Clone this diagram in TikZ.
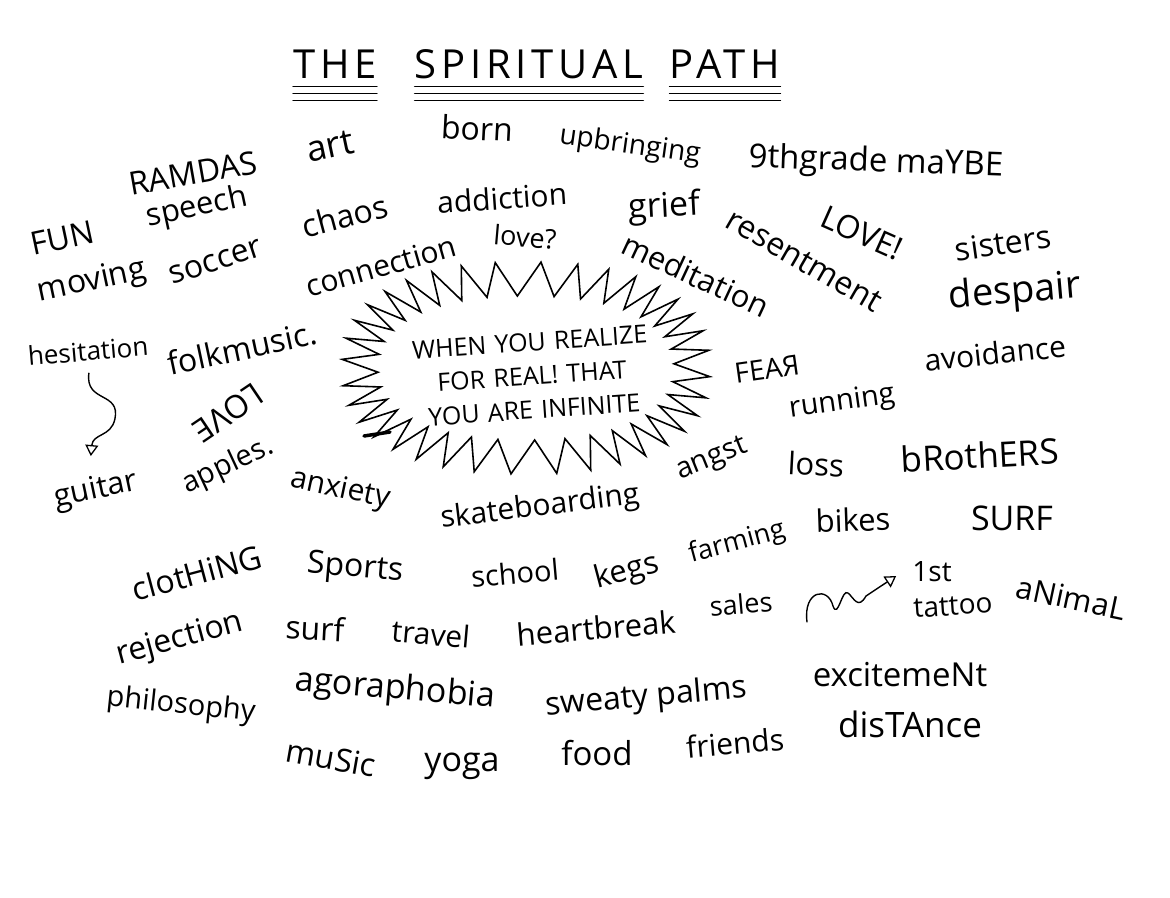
\documentclass[tikz,border=0pt]{standalone}
\usepackage{fontspec}
\setmainfont{Open Sans}
\newfontfamily\titlefont[LetterSpace=12]{Open Sans}
\usepackage{graphicx}
\usepackage{tikz}
\usetikzlibrary{positioning, arrows.meta, calc}
\newcommand{\fs}[1]{\fontsize{#1}{#1}\selectfont}

\begin{document}
\begin{tikzpicture}[
    x=1pt, y=-1pt,
    declare function={sco(\t)=sign(cos(\t))*abs(cos(\t))^0.85;
                      ssi(\t)=sign(sin(\t))*abs(sin(\t))^0.85;},
    word/.style={inner sep=0pt, font=\fs{30}},
    ttl/.style={inner sep=0pt, font=\titlefont\fs{40}},
    rule/.style={line width=1.3pt, line cap=round},
    burst/.style={line width=1.6pt, line join=miter},
    squig/.style={line width=1.4pt, line cap=round,
                  -{Triangle[open, length=11pt, width=13pt, line width=1.3pt]}},
]
\fill[white] (0,0) rectangle (1170,897);
\useasboundingbox (0,0) rectangle (1170,897);

% title
\node[ttl, anchor=base] (the)  at (335,78) {THE};
\node[ttl, anchor=base] (spir) at (529,78) {SPIRITUAL};
\node[ttl, anchor=base] (path) at (725,78) {PATH};
\foreach \t in {the, spir, path} {
    \foreach \d in {8, 15, 22} {
        \draw[rule] ($(\t.south west)+(0,\d)$) -- ($(\t.south east)+(0,\d)$);
    }
}

% top rows
\node[word, font=\fs{32}, rotate=10] (ramdas) at (193,173) {RAMDAS};
\node[word, font=\fs{36}, rotate=12] (art) at (330,146) {art};
\node[word, font=\fs{32}, rotate=-3] (born) at (477,128) {born};
\node[word, font=\fs{28}, rotate=-8] (upbr) at (630,146) {upbringing};
\node[word, font=\fs{33}, rotate=-2] (ninth) at (876,163) {9thgrade maYBE};
\node[word, font=\fs{32}, rotate=12] (fun) at (62,238) {FUN};
\node[word, font=\fs{31}, rotate=12] (speech) at (197,208) {speech};
\node[word, font=\fs{32}, rotate=12] (moving) at (92,282) {moving};
\node[word, font=\fs{32}, rotate=18] (soccer) at (216,262) {soccer};
\node[word, font=\fs{32}, rotate=15] (chaos) at (345,216) {chaos};
\node[word, font=\fs{30}, rotate=4] (addict) at (502,198) {addiction};
\node[word, font=\fs{34}, rotate=3] (grief) at (664,208) {grief};
\node[word, font=\fs{32}, rotate=-30] (resent) at (804,261) {resentment};
\node[word, font=\fs{32}, rotate=-24] (loveA) at (862,233) {LOVE!};
\node[word, font=\fs{32}, rotate=8] (sisters) at (1003,243) {sisters};
\node[word, font=\fs{30}, rotate=16] (connect) at (381,266) {connection};
\node[word, font=\fs{27}, rotate=-5] (loveq) at (525,237) {love?};
\node[word, font=\fs{31}, rotate=-25] (medit) at (696,275) {meditation};
\node[word, font=\fs{38}, rotate=5] (despair) at (1015,293) {despair};
\node[word, font=\fs{26}, rotate=5] (hes) at (88,351) {hesitation};
\node[word, font=\fs{32}, rotate=12] (folk) at (242,348) {folkmusic.};
\node[word, font=\fs{32}, rotate=214] (loveB) at (228,413) {LOVE};

% the burst
\coordinate (burstc) at (526,368);
\draw[burst] ($(burstc)+({184*sco(3)},{106*ssi(3)})$)
    \foreach \a in {3,13,...,353} {
        -- ($(burstc)+({148*sco(\a+5)},{72*ssi(\a+5)})$)
        -- ($(burstc)+({184*sco(\a+10)},{106*ssi(\a+10)})$)
    } -- cycle;
\draw[line width=3.5pt, line cap=round] (364,436) -- (390,432);
\node[inner sep=0pt, font=\fs{25}, align=center, rotate=4,
      text width=290pt] (real) at (532,376)
    {WHEN YOU REALIZE\\[9pt] FOR REAL! THAT\\[9pt] YOU ARE INFINITE};

% middle rows
\node[word, font=\fs{31}, rotate=12] (guitar) at (96,491) {guitar};
\node[word, font=\fs{29}, rotate=25] (apples) at (228,466) {apples.};
\node[word, font=\fs{30}, rotate=-12] (anx) at (340,490) {anxiety};
\node[word, font=\fs{30}, rotate=7] (skate) at (540,508) {skateboarding};
\node[word, font=\fs{29}, rotate=22] (angst) at (712,460) {angst};
\node[word, font=\fs{29}, rotate=8] (running) at (842,403) {running};
\node[word, font=\fs{28}, rotate=8] (fear) at (767,369) {FEA\reflectbox{R}};
\node[word, font=\fs{30}, rotate=6] (avoid) at (995,353) {avoidance};
\node[word, font=\fs{31}, rotate=-3] (loss) at (816,464) {loss};
\node[word, font=\fs{35}, rotate=3] (bros) at (980,455) {bRothERS};
\node[word, font=\fs{32}, rotate=15] (cloth) at (197,573) {clotHiNG};
\node[word, font=\fs{32}, rotate=-5] (sports) at (355,569) {Sports};
\node[word, font=\fs{29}, rotate=5] (school) at (515,573) {school};
\node[word, font=\fs{31}, rotate=15] (kegs) at (627,572) {kegs};
\node[word, font=\fs{27}, rotate=15] (farm) at (737,543) {farming};
\node[word, font=\fs{31}, rotate=2] (bikes) at (853,520) {bikes};
\node[word, font=\fs{34}] (surfA) at (1012,518) {SURF};

% lower rows
\node[word, font=\fs{32}, rotate=15] (reject) at (180,640) {rejection};
\node[word, font=\fs{32}, rotate=-3] (surfB) at (315,628) {surf};
\node[word, font=\fs{30}, rotate=-5] (travel) at (431,634) {travel};
\node[word, font=\fs{31}, rotate=5] (heart) at (596,628) {heartbreak};
\node[word, font=\fs{27}, rotate=5] (sales) at (741,604) {sales};
\node[word, font=\fs{28}] (first) at (932,572) {1st};
\node[word, font=\fs{28}, rotate=4] (tattoo) at (953,606) {tattoo};
\node[word, font=\fs{31}, rotate=-12] (animal) at (1071,598) {aNimaL};
\node[word, font=\fs{29}, rotate=-6] (philo) at (181,706) {philosophy};
\node[word, font=\fs{34}, rotate=-5] (agora) at (395,690) {agoraphobia};
\node[word, font=\fs{32}, rotate=5] (sweaty) at (646,698) {sweaty palms};
\node[word, font=\fs{33}] (excite) at (900,675) {excitemeNt};
\node[word, font=\fs{32}, rotate=-10] (music) at (331,758) {muSic};
\node[word, font=\fs{34}] (yoga) at (462,766) {yoga};
\node[word, font=\fs{33}] (food) at (597,753) {food};
\node[word, font=\fs{30}, rotate=5] (friends) at (735,743) {friends};
\node[word, font=\fs{35}] (dist) at (910,724) {disTAnce};

% squiggle arrows
\draw[squig] ($(hes.south)+(0,12)$) .. controls ($(hes.south)+(-4,42)$) and ($(hes.south)+(32,30)$) ..
    ($(hes.south)+(26,58)$) .. controls ($(hes.south)+(22,76)$) and ($(hes.south)+(4,72)$) ..
    ($(guitar.north)+(-2,-20)$);
\coordinate (wave) at (807,622);
\draw[squig] (wave) .. controls (803,590) and (828,586) .. (833,606)
    .. controls (838,620) and (842,588) .. (848,593)
    .. controls (854,598) and (858,610) .. (866,596)
    -- ($(first.west)+(-16,4)$);
\end{tikzpicture}
\end{document}
